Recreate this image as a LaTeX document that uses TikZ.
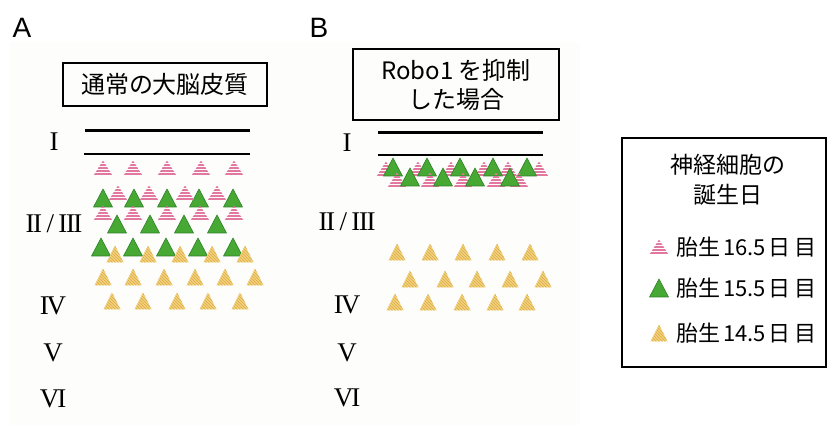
\documentclass[tikz,border=0pt]{standalone}
\usepackage{fontspec}
\setmainfont{Liberation Serif}
\newfontfamily\jp{Noto Sans CJK JP}
\newfontfamily\lat{Liberation Sans}
\definecolor{pinkc}{RGB}{226,120,160}
\definecolor{greenc}{RGB}{72,168,52}
\definecolor{greend}{RGB}{45,130,40}
\definecolor{yelc}{RGB}{226,178,70}
\definecolor{yelbg}{RGB}{250,234,178}
\definecolor{bgc}{RGB}{253,253,252}
\newcommand{\ptri}[2]{%
 \begin{scope}
 \clip (#1-9.5,#2+7.5)--(#1,#2-7.5)--(#1+9.5,#2+7.5)--cycle;
 \foreach \k in {-6,-3,0,3,6} \draw[pinkc,line width=1.6] (#1-10,#2+\k)--(#1+10,#2+\k);
 \end{scope}}
\newcommand{\gtri}[2]{%
 \filldraw[fill=greenc,draw=greend,line width=0.6,line join=round] (#1-9.5,#2+9)--(#1,#2-9)--(#1+9.5,#2+9)--cycle;}
\newcommand{\ytri}[2]{%
 \begin{scope}
 \clip (#1-8.5,#2+8.5)--(#1,#2-8.5)--(#1+8.5,#2+8.5)--cycle;
 \fill[yelbg] (#1-10,#2-10) rectangle (#1+10,#2+10);
 \foreach \k in {-30,-27,...,12} \draw[yelc,line width=1.2] (#1+\k,#2-10)--(#1+\k+20,#2+10);
 \end{scope}}
\tikzset{
 roman/.style={font=\fontsize{27}{27}\selectfont, inner sep=0pt},
 panel/.style={font=\lat\fontsize{28}{28}\selectfont, inner sep=0pt},
 titlebox/.style={draw, line width=1.5, font=\jp\fontsize{24}{29}\selectfont, align=center, inner sep=0pt},
 legtext/.style={font=\jp\fontsize{22}{26}\selectfont, anchor=west, inner sep=0pt},
}
\begin{document}
\begin{tikzpicture}[x=1pt,y=-1pt]
\useasboundingbox (0,0) rectangle (828,430);
\fill[bgc] (10,42) rectangle (580,425);
% panel labels
\node[panel] (labA) at (22,28) {A};
\node[panel] (labB) at (319,28) {B};
% title boxes
\node[titlebox, minimum width=204, minimum height=43] (tA) at (165,84.5) {通常の大脳皮質};
\node[titlebox, minimum width=206, minimum height=71] (tB) at (456,84.5) {Robo1 を抑制\\した場合};
% layer lines A
\coordinate (a1l) at (85,131); \coordinate (a1r) at (250,131);
\coordinate (a2l) at (84,154); \coordinate (a2r) at (250,154);
\draw[line width=3] (a1l) -- (a1r);
\draw[line width=2] (a2l) -- (a2r);
% layer lines B
\coordinate (b1l) at (378,133); \coordinate (b1r) at (543,133);
\coordinate (b2l) at (378,155); \coordinate (b2r) at (543,155);
\draw[line width=3] (b1l) -- (b1r);
\draw[line width=2] (b2l) -- (b2r);
% roman numerals A
\node[roman] (rA1) at (54,142) {I};
\node[roman] (rA2) at (54,224) {I\kern-1.5pt I\,/\,I\kern-1.5pt I\kern-1.5pt I};
\node[roman] (rA4) at (53,306) {I\kern-2pt V};
\node[roman] (rA5) at (53,353) {V};
\node[roman] (rA6) at (53,399) {V\kern-2pt I};
% roman numerals B
\node[roman] (rB1) at (347,143) {I};
\node[roman] (rB2) at (347,222) {I\kern-1.5pt I\,/\,I\kern-1.5pt I\kern-1.5pt I};
\node[roman] (rB4) at (347,305) {I\kern-2pt V};
\node[roman] (rB5) at (347,353) {V};
\node[roman] (rB6) at (347,398) {V\kern-2pt I};
% panel A cells
\foreach \x in {103,134,167,199,233} {\gtri{\x}{198}}
\foreach \x in {103,133,167,201,234} {\ptri{\x}{168}}
\foreach \x in {118,149,185,217} {\ptri{\x}{193}}
\foreach \x in {103,133,167,200,234} {\ptri{\x}{213}}
\foreach \x in {117,150,184,217} {\gtri{\x}{224}}
\foreach \x in {101,133,166,198,233} {\gtri{\x}{247}}
\foreach \x in {115,148,180,212,245} {\ytri{\x}{254}}
\foreach \x in {103,133,164,195,225,255} {\ytri{\x}{277}}
\foreach \x in {112,143,177,208,240} {\ytri{\x}{301}}
% panel B cells
\foreach \x in {386,418,451,484,508,539} {\ptri{\x}{169}}
\foreach \x in {393,427,460,493,527} {\gtri{\x}{167}}
\foreach \x in {397,430,463,496,519} {\ptri{\x}{180}}
\foreach \x in {410,443,475,510} {\gtri{\x}{177}}
\foreach \x in {397,430,463,497,530} {\ytri{\x}{252}}
\foreach \x in {410,445,477,510,543} {\ytri{\x}{279}}
\foreach \x in {395,428,462,495,527} {\ytri{\x}{302}}
% legend
\node[draw, line width=1.5, minimum width=204, minimum height=229, inner sep=0pt] (leg) at (724,252.5) {};
\node[font=\jp\fontsize{23}{30}\selectfont, align=center, inner sep=0pt] (legT) at (728,180) {神経細胞の\\誕生日};
\ptri{659}{247}
\gtri{659}{288}
\ytri{659}{333}
\node[legtext] (l1) at (676,247) {胎生\hspace{3pt}16.5\hspace{3pt}日\hspace{4pt}目};
\node[legtext] (l2) at (676,288) {胎生\hspace{3pt}15.5\hspace{3pt}日\hspace{4pt}目};
\node[legtext] (l3) at (676,333) {胎生\hspace{3pt}14.5\hspace{3pt}日\hspace{4pt}目};
\end{tikzpicture}
\end{document}
